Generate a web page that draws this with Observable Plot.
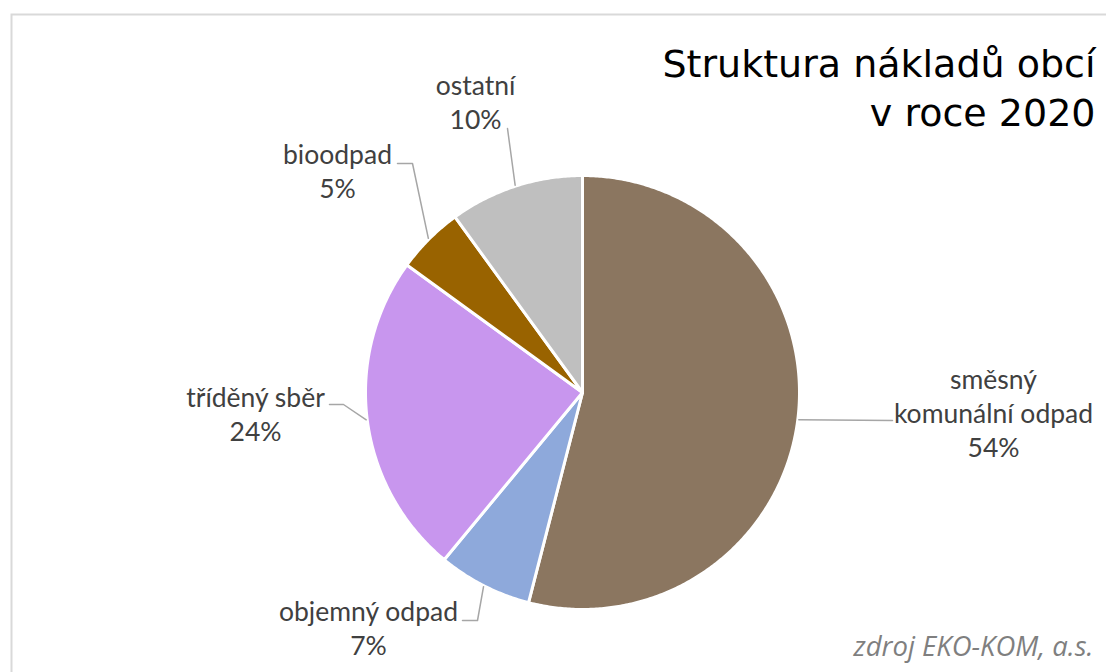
<!DOCTYPE html>
<html>
<head>
<meta charset="utf-8">
<script src="https://cdn.jsdelivr.net/npm/d3@7"></script>
<script src="https://cdn.jsdelivr.net/npm/@observablehq/plot@0.6"></script>
<style>
  html, body { margin: 0; padding: 0; background: #ffffff; }
  #chart svg { display: block; }
</style>
</head>
<body>
<div id="chart"></div>
<script>
// ---------- data ----------
const categories = ["směsný komunální odpad", "objemný odpad", "tříděný sběr", "bioodpad", "ostatní"];
const shares = [54, 7, 24, 5, 10];
const labelLines = [["směsný", "komunální odpad"], ["objemný odpad"], ["tříděný sběr"], ["bioodpad"], ["ostatní"]];
const sliceColors = ["#8B7660", "#8EA9DB", "#C896EE", "#996300", "#BFBFBF"];
const titleLines = ["Struktura nákladů obcí", "v roce 2020"];
const sourceText = "zdroj EKO-KOM, a.s.";

// ---------- layout ----------
const W = 1106, H = 672;
const cx = 582, cy = 392, R = 217;
const labelLineStep = 34;
const labelLayout = [
  {x: 993, y: 388, leader: [[892, 420]]},
  {x: 368, y: 620, leader: [[477, 620], [462, 620]]},
  {x: 255, y: 406, leader: [[343, 404], [329, 404]]},
  {x: 337, y: 163, leader: [[412, 163], [397, 163]]},
  {x: 475, y: 94, leader: [[507, 128]]}
];
const labelFont = "Lato, 'Open Sans', sans-serif";

// ---------- pie geometry from the data ----------
const arcs = d3.pie().sort(null).startAngle(0).endAngle(2 * Math.PI)(shares);
const pt = (a, r) => [cx + r * Math.sin(a), cy - r * Math.cos(a)];

const pieRows = arcs.flatMap((a, i) => {
  const rows = [{name: categories[i], x: cx, y: cy}];
  const steps = Math.max(2, Math.ceil((a.endAngle - a.startAngle) / (Math.PI / 360)));
  for (let k = 0; k <= steps; k++) {
    const ang = a.startAngle + (a.endAngle - a.startAngle) * k / steps;
    const [x, y] = pt(ang, R);
    rows.push({name: categories[i], x, y});
  }
  rows.push({name: categories[i], x: cx, y: cy});
  return rows;
});

const leaderRows = arcs.flatMap((a, i) => {
  const mid = (a.startAngle + a.endAngle) / 2;
  const [sx, sy] = pt(mid, R + 1);
  return [{name: categories[i], x: sx, y: sy},
          ...labelLayout[i].leader.map(([x, y]) => ({name: categories[i], x, y}))];
});

const labelRows = categories.flatMap((c, i) => {
  const lines = [...labelLines[i], `${shares[i]}%`];
  return lines.map((t, j) => ({text: t, x: labelLayout[i].x, y: labelLayout[i].y + j * labelLineStep}));
});

const titleRows = titleLines.map((t, j) => ({text: t, x: 1095, y: 76 + j * 49}));
const sourceRows = [{text: sourceText, x: 1093, y: 655}];

const chart = Plot.plot({
  width: W,
  height: H,
  margin: 0,
  x: {type: "identity", axis: null},
  y: {type: "identity", axis: null},
  color: {domain: categories, range: sliceColors},
  style: {background: "#ffffff"},
  marks: [
    Plot.frame({stroke: "#D9D9D9", strokeWidth: 2, insetLeft: 11, insetTop: 14, insetRight: -10, insetBottom: -10}),
    Plot.line(pieRows, {x: "x", y: "y", z: "name", fill: "name", stroke: "#ffffff", strokeWidth: 3, strokeLinejoin: "round"}),
    Plot.line(leaderRows, {x: "x", y: "y", z: "name", stroke: "#A6A6A6", strokeWidth: 1.5}),
    Plot.text(labelRows, {x: "x", y: "y", text: "text", textAnchor: "middle", lineAnchor: "bottom",
      fontFamily: labelFont, fontSize: 26.5, fill: "#404040"}),
    Plot.text(titleRows, {x: "x", y: "y", text: "text", textAnchor: "end", lineAnchor: "bottom",
      fontFamily: "'DejaVu Sans', sans-serif", fontSize: 38, fill: "#000000"}),
    Plot.text(sourceRows, {x: "x", y: "y", text: "text", textAnchor: "end", lineAnchor: "bottom",
      fontFamily: "'Open Sans', sans-serif", fontSize: 27.5, fontStyle: "italic", fill: "#7F7F7F"})
  ]
});
document.getElementById("chart").appendChild(chart);
</script>
</body>
</html>
